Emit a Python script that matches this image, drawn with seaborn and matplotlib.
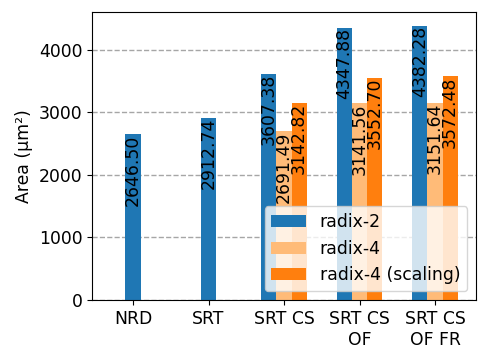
import numpy as np
import pandas as pd
import matplotlib
matplotlib.use("Agg")
import matplotlib.pyplot as plt
from matplotlib.patches import Patch
import seaborn as sns

categories = ["NRD", "SRT", "SRT CS", "SRT CS\nOF", "SRT CS\nOF FR"]
series = ["radix-2", "radix-4", "radix-4 (scaling)"]
radix2 = [2646.50, 2912.74, 3607.38, 4347.88, 4382.28]
radix4 = [np.nan, np.nan, 2691.49, 3141.56, 3151.64]
radix4_scaling = [np.nan, np.nan, 3142.82, 3552.70, 3572.48]
colors = {"radix-2": "#1f77b4", "radix-4": "#ffbb78", "radix-4 (scaling)": "#ff7f0e"}

plt.rcParams["font.size"] = 12.4

bar_w = 0.2
rows = []
for i, cat in enumerate(categories):
    vals = [radix2[i], radix4[i], radix4_scaling[i]]
    present = [j for j, v in enumerate(vals) if not np.isnan(v)]
    n = len(present)
    for k, j in enumerate(present):
        pos = round(i + (k - (n - 1) / 2) * bar_w, 3)
        rows.append({"pos": pos, "value": vals[j], "series": series[j]})
df = pd.DataFrame(rows)

fig, ax = plt.subplots(figsize=(4.88, 3.61), dpi=100)
ax.set_axisbelow(True)
ax.grid(axis="y", linestyle="--", color="gray", alpha=0.7, linewidth=1.0)

sns.barplot(data=df, x="pos", y="value", hue="series", hue_order=series,
            palette=colors, native_scale=True, dodge=False, width=1.0,
            saturation=1, errorbar=None, legend=False, ax=ax)

# value labels hang down from the top of each bar
for _, r in df.iterrows():
    ax.text(r["pos"], r["value"], f"{r['value']:.2f}", rotation=90,
            ha="center", va="top")

ax.set_xticks(range(len(categories)))
ax.set_xticklabels(categories)
ax.set_xlim(-0.54, len(categories) - 1 + 0.54)
ax.set_ylim(0, 4601)
ax.set_yticks([0, 1000, 2000, 3000, 4000])
ax.set_xlabel("")
ax.set_ylabel("Area (µm²)")

handles = [Patch(facecolor=colors[s], label=s) for s in series]
ax.legend(handles=handles, loc="lower right")

fig.subplots_adjust(left=0.189, right=0.975, top=0.967, bottom=0.169)
fig.savefig("out.png", dpi=100)
